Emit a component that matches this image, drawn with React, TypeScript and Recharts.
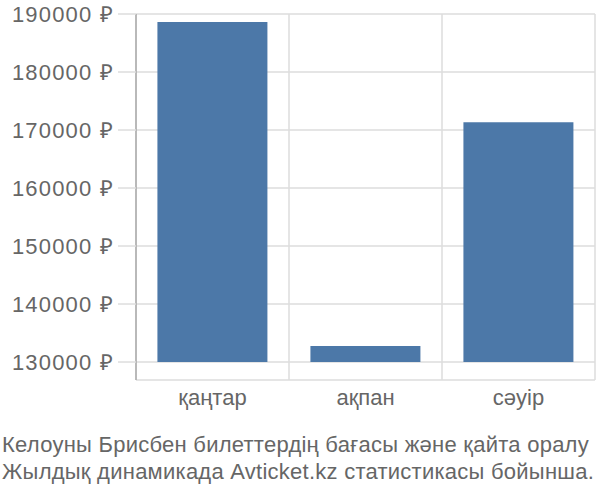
import { BarChart, Bar, XAxis, YAxis, CartesianGrid } from 'recharts';

const months = ['қаңтар', 'ақпан', 'сәуір'];
const prices = [188600, 132750, 171350];
const yTicks = [130000, 140000, 150000, 160000, 170000, 180000, 190000];
const titleLines = [
  'Келоуны Брисбен билеттердің бағасы және қайта оралу',
  'Жылдық динамикада Avticket.kz статистикасы бойынша.',
];

const data = months.map((month, i) => ({ month, price: prices[i] }));

const yBase = 130000;
const textColor = '#666';
const gridColor = '#dddddd';
const font = 'Liberation Sans, Arial, sans-serif';

export default function App() {
  return (
    <div style={{ position: 'absolute', left: 0, top: 0, width: 600, height: 500, background: '#fff' }}>
      <BarChart
        width={600}
        height={420}
        data={data}
        margin={{ top: 14, right: 5, bottom: 0, left: 0 }}
        barCategoryGap="14%"
      >
        <CartesianGrid
          stroke={gridColor}
          strokeWidth={1.5}
          verticalCoordinatesGenerator={({ offset }: any) =>
            [0, 1, 2, 3].map((i) => offset.left + (i * offset.width) / months.length)
          }
        />
        <YAxis
          width={136}
          domain={[126900, 190000]}
          ticks={yTicks}
          allowDataOverflow
          interval={0}
          axisLine={{ stroke: '#aaa', strokeWidth: 1.5 }}
          tickLine={{ stroke: gridColor, strokeWidth: 1.5 }}
          tickSize={18}
          tickMargin={4}
          tick={{ fill: textColor, fontSize: 22, fontFamily: font, letterSpacing: 1.2 }}
          tickFormatter={(v: number) => `${v} ₽`}
        />
        <XAxis
          dataKey="month"
          axisLine={false}
          tickLine={false}
          tickSize={0}
          tickMargin={9}
          height={40}
          tick={{ fill: textColor, fontSize: 22, fontFamily: font }}
        />
        <Bar
          dataKey={(d: any) => [yBase, d.price]}
          fill="#4c78a8"
          isAnimationActive={false}
        />
      </BarChart>
      <div
        style={{
          position: 'absolute',
          left: 2,
          top: 431,
          fontFamily: font,
          fontSize: 22,
          lineHeight: '27px',
          letterSpacing: 0.25,
          color: textColor,
          whiteSpace: 'nowrap',
        }}
      >
        {titleLines.map((l) => (
          <div key={l}>{l}</div>
        ))}
      </div>
    </div>
  );
}
